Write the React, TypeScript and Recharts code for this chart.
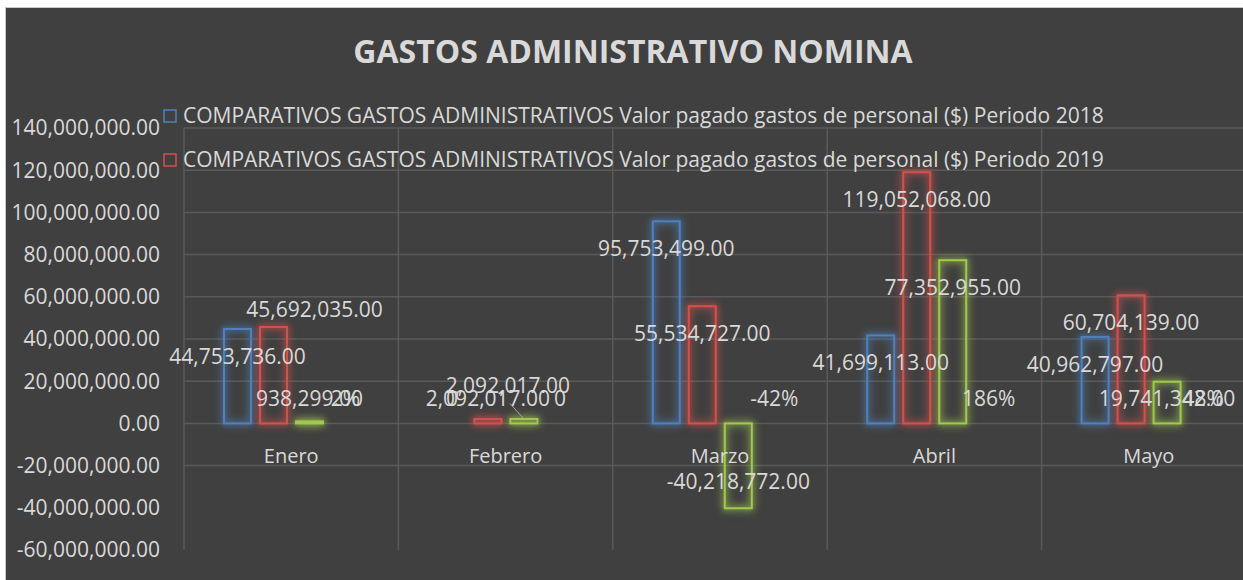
import { ComposedChart, Bar, Line, XAxis, YAxis, CartesianGrid, LabelList } from 'recharts'

const months = ['Enero', 'Febrero', 'Marzo', 'Abril', 'Mayo']
const pagado2018 = [44753736, 0, 95753499, 41699113, 40962797]
const pagado2019 = [45692035, 2092017, 55534727, 119052068, 60704139]
const diferencia = [938299, 2092017, -40218772, 77352955, 19741342]
const variacion = [0.021, 0, -0.42, 1.86, 0.48]
const yTicks = [-60000000, -40000000, -20000000, 0, 20000000, 40000000, 60000000, 80000000, 100000000, 120000000, 140000000]
const gridTicks = [-20000000, 0, 20000000, 40000000, 60000000, 80000000, 100000000, 120000000, 140000000]

const legendNames = [
  'COMPARATIVOS GASTOS ADMINISTRATIVOS Valor pagado gastos de personal ($) Periodo 2018',
  'COMPARATIVOS GASTOS ADMINISTRATIVOS Valor pagado gastos de personal ($) Periodo 2019',
]

const BG = '#404040'
const TEXT = '#d9d9d9'
const GRID = '#5a5a5a'
const BLUE = '#4f81bd'
const RED = '#d4504d'
const GREEN = '#a2c94e'
const FONT = '"Open Sans", sans-serif'

const data = months.map((m, i) => ({
  mes: m,
  p2018: pagado2018[i],
  p2019: pagado2019[i],
  dif: diferencia[i],
  pct: variacion[i],
}))

const fmt2 = (v: number) =>
  v.toLocaleString('en-US', { minimumFractionDigits: 2, maximumFractionDigits: 2 })
const fmtMoney = (v: number) => (v === 0 ? '0' : fmt2(v))
const fmtPct = (v: number) => (v === 0 ? '0' : `${Math.round(v * 100)}%`)

// vertical grid lines on the category edges, not the centres
const edgeLines = ({ offset }: any) =>
  months.map((_, i) => i).concat(months.length).map((k) => offset.left + (k * offset.width) / months.length)

// labels that were dragged by hand in the original chart
const labelMoves: Record<string, { dx: number; dy: number; leader?: boolean }> = {
  'p2019-0': { dx: 41, dy: -45 },
  'dif-1': { dx: -16, dy: -13, leader: true },
}

function glowBar(color: string) {
  return (p: any) => {
    const { x, y, width, height } = p
    if (!width || !height) return <g />
    const top = Math.min(y, y + height)
    return (
      <rect
        x={x}
        y={top}
        width={width}
        height={Math.abs(height)}
        fill="none"
        stroke={color}
        strokeWidth={2}
        style={{ filter: `drop-shadow(0 0 4px ${color}) drop-shadow(0 0 2px ${color}99)` }}
      />
    )
  }
}

function valueLabel(key: string, values: number[], fmt: (v: number) => string) {
  return (props: any) => {
    const box = props.viewBox ?? props
    const { x, y, width, height } = box
    const index = props.index
    if (x == null || index == null) return null
    const value = values[index]
    const top = Math.min(y, y + height)
    const bottom = Math.max(y, y + height)
    let cx = x + width / 2
    let cy = value < 0 && bottom - top > 30 ? Math.max(bottom - 27, top + 25) : Math.min(top + 27, bottom - 25)
    const move = labelMoves[`${key}-${index}`]
    let leader = null
    if (move) {
      const barX = cx
      cx += move.dx
      cy += move.dy
      if (move.leader) {
        leader = <line x1={cx + 2} y1={cy + 18} x2={barX} y2={top} stroke="#a6a6a6" strokeWidth={1} />
      }
    }
    return (
      <g>
        {leader}
        <text x={cx} y={cy} textAnchor="middle" dominantBaseline="central" fill={TEXT} fontSize={21} fontFamily={FONT}>
          {fmt(value)}
        </text>
      </g>
    )
  }
}

const monthLabel = (props: any) => {
  const { x, y, index } = props
  if (x == null || index == null) return null
  return (
    <text x={x} y={y + 40} textAnchor="middle" fill={TEXT} fontSize={20} fontFamily={FONT}>
      {months[index]}
    </text>
  )
}

export default function App() {
  return (
    <div style={{ position: 'fixed', left: 0, top: 0, width: 1243, height: 580, overflow: 'hidden', background: '#fff' }}>
      <div
        style={{
          position: 'absolute',
          left: 5,
          top: 7,
          width: 1270,
          height: 590,
          background: BG,
          border: '1px solid #c8c8c8',
          fontFamily: FONT,
        }}
      >
        <ComposedChart
          width={1262}
          height={572}
          data={data}
          margin={{ top: 120, right: 12, bottom: 30, left: 0 }}
          barSize={27}
          barGap={9}
        >
          <CartesianGrid vertical={false} horizontalValues={gridTicks} stroke={GRID} strokeWidth={1.5} />
          <CartesianGrid horizontal={false} verticalCoordinatesGenerator={edgeLines} stroke={GRID} strokeWidth={1.5} />
          <XAxis dataKey="mes" hide />
          <YAxis
            domain={[yTicks[0], yTicks[yTicks.length - 1]]}
            ticks={yTicks}
            interval={0}
            width={178}
            tickSize={0}
            tickMargin={24}
            axisLine={false}
            tickLine={false}
            tickFormatter={fmt2}
            tick={{ fill: TEXT, fontSize: 21, fontFamily: FONT }}
          />
          <Bar dataKey="p2018" shape={glowBar(BLUE)} isAnimationActive={false}>
            <LabelList dataKey="p2018" content={valueLabel('p2018', pagado2018, fmtMoney)} />
          </Bar>
          <Bar dataKey="p2019" shape={glowBar(RED)} isAnimationActive={false}>
            <LabelList dataKey="p2019" content={valueLabel('p2019', pagado2019, fmtMoney)} />
          </Bar>
          <Bar dataKey="dif" shape={glowBar(GREEN)} isAnimationActive={false}>
            <LabelList dataKey="dif" content={valueLabel('dif', diferencia, fmtMoney)} />
          </Bar>
          <Bar dataKey="pct" shape={() => <g />} isAnimationActive={false}>
            <LabelList dataKey="pct" content={valueLabel('pct', variacion, fmtPct)} />
          </Bar>
          <Line dataKey={() => 0} stroke="none" dot={false} activeDot={false} isAnimationActive={false}>
            <LabelList content={monthLabel} />
          </Line>
        </ComposedChart>

        {/* title */}
        <div
          style={{
            position: 'absolute',
            left: 0,
            top: 27,
            width: 1254,
            textAlign: 'center',
            color: TEXT,
            fontSize: 32,
            lineHeight: '32px',
            fontWeight: 700,
          }}
        >
          GASTOS ADMINISTRATIVO NOMINA
        </div>

        {/* legend, drawn over the plot like in the original */}
        {legendNames.map((name, i) => (
          <div
            key={name}
            style={{
              position: 'absolute',
              left: 157,
              top: 97 + i * 44,
              display: 'flex',
              alignItems: 'center',
              color: TEXT,
              fontSize: 21,
              lineHeight: '21px',
              whiteSpace: 'nowrap',
            }}
          >
            <svg width={14} height={14} style={{ marginRight: 6, flexShrink: 0 }}>
              <rect x={1} y={1} width={12} height={12} fill="none" stroke={i === 0 ? BLUE : RED} strokeWidth={1.5} />
            </svg>
            {name}
          </div>
        ))}
      </div>
    </div>
  )
}
